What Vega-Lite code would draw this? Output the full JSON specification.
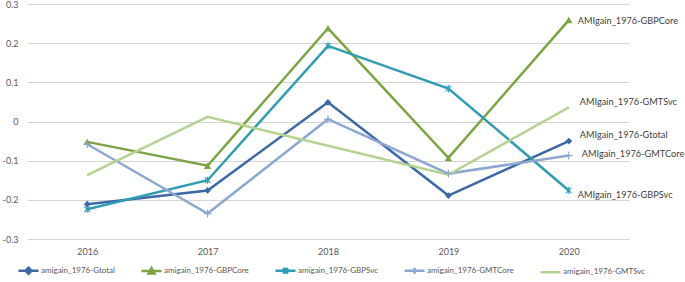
{
  "$schema": "https://vega.github.io/schema/vega-lite/v6.json",
  "width": 602,
  "height": 235,
  "autosize": {"type": "none"},
  "padding": {"left": 27, "top": 4, "right": 56, "bottom": 43},
  "background": "white",
  "config": {
    "view": {"stroke": null},
    "font": "Lato",
    "axis": {"labelFont": "Lato", "labelColor": "#595959", "labelFontSize": 9, "title": null}
  },
  "data": {
    "values": [
      {"year": "2016", "series": "amigain_1976-Gtotal", "value": -0.211},
      {"year": "2017", "series": "amigain_1976-Gtotal", "value": -0.176},
      {"year": "2018", "series": "amigain_1976-Gtotal", "value": 0.049},
      {"year": "2019", "series": "amigain_1976-Gtotal", "value": -0.189},
      {"year": "2020", "series": "amigain_1976-Gtotal", "value": -0.05},
      {"year": "2016", "series": "amigain_1976-GBPCore", "value": -0.052},
      {"year": "2017", "series": "amigain_1976-GBPCore", "value": -0.113},
      {"year": "2018", "series": "amigain_1976-GBPCore", "value": 0.238},
      {"year": "2019", "series": "amigain_1976-GBPCore", "value": -0.093},
      {"year": "2020", "series": "amigain_1976-GBPCore", "value": 0.259},
      {"year": "2016", "series": "amigain_1976-GBPSvc", "value": -0.224},
      {"year": "2017", "series": "amigain_1976-GBPSvc", "value": -0.15},
      {"year": "2018", "series": "amigain_1976-GBPSvc", "value": 0.193},
      {"year": "2019", "series": "amigain_1976-GBPSvc", "value": 0.084},
      {"year": "2020", "series": "amigain_1976-GBPSvc", "value": -0.176},
      {"year": "2016", "series": "amigain_1976-GMTCore", "value": -0.058},
      {"year": "2017", "series": "amigain_1976-GMTCore", "value": -0.235},
      {"year": "2018", "series": "amigain_1976-GMTCore", "value": 0.006},
      {"year": "2019", "series": "amigain_1976-GMTCore", "value": -0.133},
      {"year": "2020", "series": "amigain_1976-GMTCore", "value": -0.087},
      {"year": "2016", "series": "amigain_1976-GMTSvc", "value": -0.137},
      {"year": "2017", "series": "amigain_1976-GMTSvc", "value": 0.012},
      {"year": "2018", "series": "amigain_1976-GMTSvc", "value": -0.062},
      {"year": "2019", "series": "amigain_1976-GMTSvc", "value": -0.136},
      {"year": "2020", "series": "amigain_1976-GMTSvc", "value": 0.036}
    ]
  },
  "encoding": {
    "x": {
      "field": "year", "type": "ordinal",
      "scale": {"type": "point", "padding": 0.5},
      "axis": {"labelAngle": 0, "ticks": false, "domain": false, "labelPadding": 8, "grid": false}
    },
    "y": {
      "field": "value", "type": "quantitative",
      "scale": {"domain": [-0.3, 0.3], "nice": false, "zero": false},
      "axis": {
        "values": [-0.3, -0.2, -0.1, 0, 0.1, 0.2, 0.3],
        "labelExpr": "toString(round(datum.value*10)/10)",
        "ticks": false, "domain": false, "labelPadding": 9,
        "gridColor": "#d4d4d4", "gridWidth": 1
      }
    }
  },
  "layer": [
    {
      "mark": {"type": "line", "strokeWidth": 2.5},
      "encoding": {
        "color": {
          "field": "series", "type": "nominal",
          "scale": {
            "domain": ["amigain_1976-Gtotal", "amigain_1976-GBPCore", "amigain_1976-GBPSvc", "amigain_1976-GMTCore", "amigain_1976-GMTSvc"],
            "range": ["#3b68a6", "#7da443", "#2f9db4", "#8ca7d1", "#b4d290"]
          },
          "legend": {
            "orient": "none",
            "legendX": -10,
            "legendY": 255,
            "direction": "horizontal",
            "columns": 5,
            "title": null,
            "labelFont": "Lato",
            "labelFontSize": 8,
            "labelColor": "#595959",
            "labelOffset": 1,
            "columnPadding": 21,
            "symbolSize": 400,
            "symbolStrokeWidth": 2.5,
            "encode": {
              "symbols": {
                "update": {
                  "shape": {"signal": "datum.value === 'amigain_1976-Gtotal' ? 'M-1,0H1M0,-0.3L0.3,0L0,0.3L-0.3,0Z' : datum.value === 'amigain_1976-GBPCore' ? 'M-1,0H1M0,-0.3L0.3,0.25L-0.3,0.25Z' : datum.value === 'amigain_1976-GBPSvc' ? 'M-1,0H1M-0.25,-0.25L0.25,0.25M-0.25,0.25L0.25,-0.25M0,-0.3V0.3' : datum.value === 'amigain_1976-GMTCore' ? 'M-1,0H1M0,-0.3V0.3' : 'M-1,0H1'"},
                  "fill": {"scale": "color", "field": "value"}
                }
              }
            }
          }
        }
      }
    },
    {
      "transform": [{"filter": "datum.series === 'amigain_1976-Gtotal'"}],
      "mark": {"type": "point", "shape": "diamond", "filled": true, "opacity": 1, "size": 45, "color": "#3b68a6"}
    },
    {
      "transform": [{"filter": "datum.series === 'amigain_1976-GBPCore'"}],
      "mark": {"type": "point", "shape": "triangle-up", "filled": true, "opacity": 1, "size": 55, "color": "#7da443"}
    },
    {
      "transform": [{"filter": "datum.series === 'amigain_1976-GBPSvc'"}],
      "mark": {"type": "point", "shape": "M-1,-1L1,1M-1,1L1,-1M0,-1.3V1.3", "filled": false, "opacity": 1, "size": 30, "strokeWidth": 1.2, "color": "#2f9db4"}
    },
    {
      "transform": [{"filter": "datum.series === 'amigain_1976-GMTCore'"}],
      "mark": {"type": "point", "shape": "M-1,0H1M0,-1V1", "filled": false, "opacity": 1, "size": 60, "strokeWidth": 1.2, "color": "#8ca7d1"}
    },
    {
      "transform": [{"filter": "datum.year === '2020' && datum.series === 'amigain_1976-GBPCore'"}],
      "mark": {"type": "text", "align": "left", "dx": 9, "dy": 1, "fontSize": 9.2, "color": "#404040", "font": "Lato"},
      "encoding": {"text": {"value": "AMIgain_1976-GBPCore"}}
    },
    {
      "transform": [{"filter": "datum.year === '2020' && datum.series === 'amigain_1976-GMTSvc'"}],
      "mark": {"type": "text", "align": "left", "dx": 11, "dy": -5, "fontSize": 9.2, "color": "#404040", "font": "Lato"},
      "encoding": {"text": {"value": "AMIgain_1976-GMTSvc"}}
    },
    {
      "transform": [{"filter": "datum.year === '2020' && datum.series === 'amigain_1976-Gtotal'"}],
      "mark": {"type": "text", "align": "left", "dx": 11, "dy": -6, "fontSize": 9.2, "color": "#404040", "font": "Lato"},
      "encoding": {"text": {"value": "AMIgain_1976-Gtotal"}}
    },
    {
      "transform": [{"filter": "datum.year === '2020' && datum.series === 'amigain_1976-GMTCore'"}],
      "mark": {"type": "text", "align": "left", "dx": 13, "dy": -2, "fontSize": 9.2, "color": "#404040", "font": "Lato"},
      "encoding": {"text": {"value": "AMIgain_1976-GMTCore"}}
    },
    {
      "transform": [{"filter": "datum.year === '2020' && datum.series === 'amigain_1976-GBPSvc'"}],
      "mark": {"type": "text", "align": "left", "dx": 9, "dy": 5, "fontSize": 9.2, "color": "#404040", "font": "Lato"},
      "encoding": {"text": {"value": "AMIgain_1976-GBPSvc"}}
    }
  ]
}
